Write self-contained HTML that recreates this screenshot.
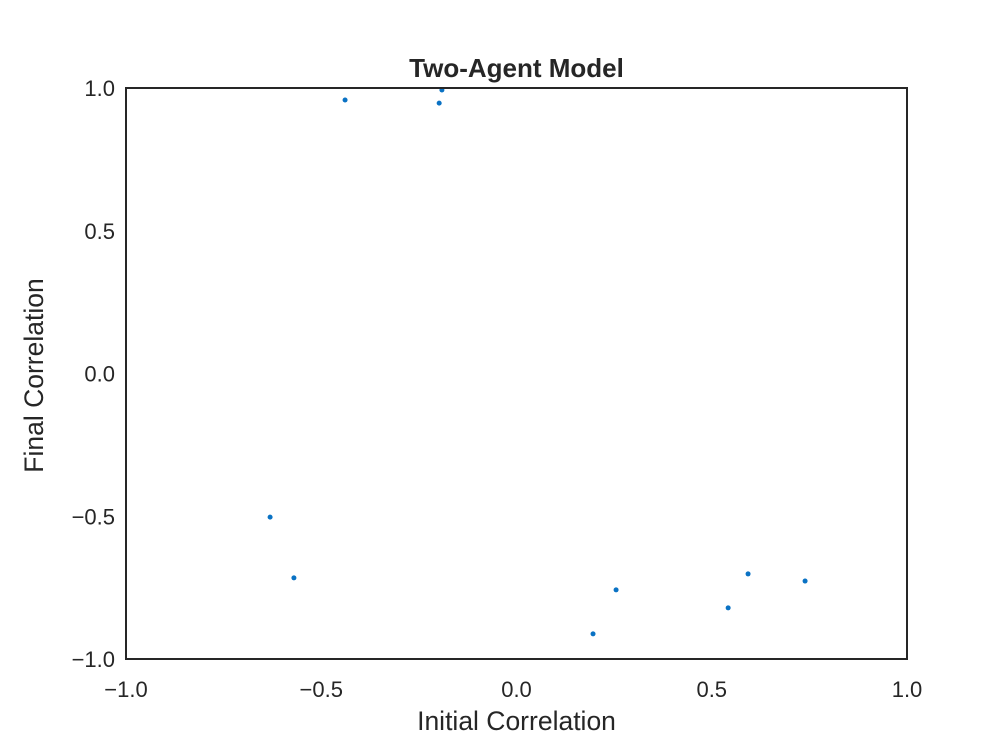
<!DOCTYPE html>
<html><head><meta charset="utf-8"><style>
html,body{margin:0;padding:0;background:#fff;}
svg text{font-family:"Liberation Sans","DejaVu Sans",sans-serif;fill:#262626;}
</style></head><body>
<svg id="chart" width="1008" height="741" viewBox="0 0 1008 741" xmlns="http://www.w3.org/2000/svg">
<rect width="1008" height="741" fill="#fff"/>
<text x="516.5" y="77" text-anchor="middle" font-size="26" font-weight="bold">Two-Agent Model</text>
<g id="ticks"></g>
<g id="points"></g>
<rect x="126" y="88" width="781" height="571" fill="none" stroke="#262626" stroke-width="2"/>
<text x="516.5" y="730" text-anchor="middle" font-size="26.5">Initial Correlation</text>
<text transform="translate(43,375.5) rotate(-90)" text-anchor="middle" font-size="26.5">Final Correlation</text>
</svg>
<script>
const xs=[-0.439,-0.191,-0.198,-0.631,-0.570,0.196,0.255,0.542,0.593,0.739];
const ys=[0.958,0.993,0.947,-0.503,-0.716,-0.912,-0.758,-0.821,-0.702,-0.727];
const xTicks=[-1,-0.5,0,0.5,1];
const xTickLabels=["\u22121.0","\u22120.5","0.0","0.5","1.0"];
const yTicks=[-1,-0.5,0,0.5,1];
const yTickLabels=["\u22121.0","\u22120.5","0.0","0.5","1.0"];
const L=126,R=907,T=88,B=659;
function sx(v){return L+(v+1)/2*(R-L);}
function sy(v){return B-(v+1)/2*(B-T);}
const NS="http://www.w3.org/2000/svg";
const tg=document.getElementById('ticks');
xTicks.forEach((v,i)=>{const t=document.createElementNS(NS,'text');
t.setAttribute('x',sx(v));t.setAttribute('y',B+38);t.setAttribute('text-anchor','middle');t.setAttribute('font-size','22');


t.textContent=xTickLabels[i];tg.appendChild(t);});
yTicks.forEach((v,i)=>{const t=document.createElementNS(NS,'text');
t.setAttribute('x',L-11);t.setAttribute('y',sy(v)+8);t.setAttribute('text-anchor','end');t.setAttribute('font-size','22');


t.textContent=yTickLabels[i];tg.appendChild(t);});
const pg=document.getElementById('points');
xs.forEach((v,i)=>{const c=document.createElementNS(NS,'circle');
c.setAttribute('cx',sx(v));c.setAttribute('cy',sy(ys[i]));c.setAttribute('r','2.5');c.setAttribute('fill','#0a72c4');


pg.appendChild(c);});
</script>
</body></html>
